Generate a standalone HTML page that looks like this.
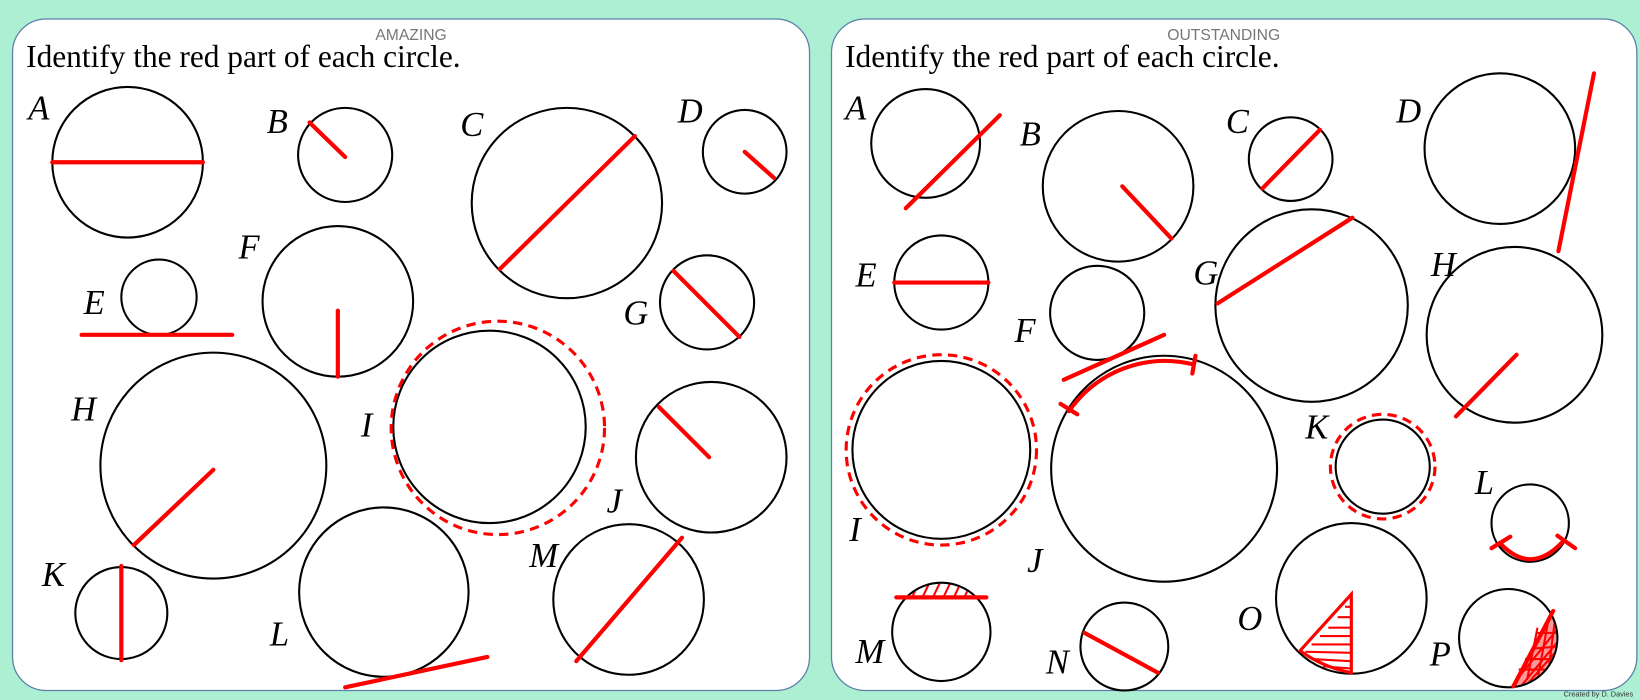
<!DOCTYPE html>
<html><head><meta charset="utf-8"><style>
html,body{margin:0;padding:0;background:#adefd3;}
svg{display:block}
.c{fill:none;stroke:#000;stroke-width:2}
.r{stroke:#f00;stroke-width:4;fill:none;stroke-linecap:round}
.h{stroke:#f00;stroke-width:2;fill:none}
.d{fill:none;stroke:#f00;stroke-width:3;stroke-dasharray:9 6}
.lb{font-family:"Liberation Serif",serif;font-style:italic;font-size:33px;fill:#000}
.t{font-family:"Liberation Serif",serif;font-size:30px;fill:#000}
.hd{font-family:"Liberation Sans",sans-serif;font-size:15px;fill:#777}
</style></head><body>
<svg width="1640" height="700" viewBox="0 0 1568 669" xmlns="http://www.w3.org/2000/svg">
<rect x="0" y="0" width="1568" height="669" fill="#adefd3"/>
<rect x="12" y="18" width="762" height="642" rx="32" fill="#fff" stroke="#5a7fa8" stroke-width="1.2"/>
<rect x="795" y="18" width="770" height="642" rx="32" fill="#fff" stroke="#5a7fa8" stroke-width="1.2"/>
<text class="hd" x="393" y="38" text-anchor="middle">AMAZING</text>
<text class="hd" x="1170" y="38" text-anchor="middle">OUTSTANDING</text>
<text class="t" x="25" y="64">Identify the red part of each circle.</text>
<text class="t" x="808" y="64">Identify the red part of each circle.</text>
<text x="1495" y="666" font-family="Liberation Sans,sans-serif" font-size="7" fill="#333">Created by D. Davies</text>

<!-- LEFT -->
<circle class="c" cx="122" cy="155" r="72"/><line class="r" x1="50" y1="155" x2="194" y2="155"/><text class="lb" x="27" y="114">A</text>
<circle class="c" cx="330" cy="148" r="45"/><line class="r" x1="296" y1="117" x2="330" y2="150"/><text class="lb" x="255" y="127">B</text>
<circle class="c" cx="542" cy="194" r="91"/><line class="r" x1="478" y1="257" x2="607" y2="130"/><text class="lb" x="440" y="130">C</text>
<circle class="c" cx="712" cy="145" r="40"/><line class="r" x1="712" y1="145" x2="740" y2="170"/><text class="lb" x="648" y="117">D</text>
<circle class="c" cx="152" cy="284" r="36"/><line class="r" x1="78" y1="320" x2="222" y2="320"/><text class="lb" x="80" y="300">E</text>
<circle class="c" cx="323" cy="288" r="72"/><line class="r" x1="323" y1="297" x2="323" y2="360"/><text class="lb" x="228" y="247">F</text>
<circle class="c" cx="676" cy="289" r="45"/><line class="r" x1="644" y1="259" x2="707" y2="322"/><text class="lb" x="596" y="310">G</text>
<circle class="c" cx="204" cy="445" r="108"/><line class="r" x1="204" y1="449" x2="128" y2="521"/><text class="lb" x="68" y="402">H</text>
<circle class="c" cx="468" cy="408" r="92"/><circle class="d" cx="476" cy="409" r="102"/><text class="lb" x="345" y="417">I</text>
<circle class="c" cx="680" cy="437" r="72"/><line class="r" x1="630" y1="389" x2="678" y2="437"/><text class="lb" x="580" y="490">J</text>
<circle class="c" cx="116" cy="586" r="44"/><line class="r" x1="116" y1="541" x2="116" y2="631"/><text class="lb" x="40" y="560">K</text>
<circle class="c" cx="367" cy="566" r="81"/><line class="r" x1="330" y1="657" x2="466" y2="628"/><text class="lb" x="258" y="617">L</text>
<circle class="c" cx="601" cy="573" r="72"/><line class="r" x1="551" y1="632" x2="652" y2="514"/><text class="lb" x="506" y="542">M</text>

<!-- RIGHT -->
<circle class="c" cx="885" cy="137" r="52"/><line class="r" x1="866" y1="199" x2="956" y2="110"/><text class="lb" x="808" y="114">A</text>
<circle class="c" cx="1069" cy="178" r="72"/><line class="r" x1="1073" y1="178" x2="1120" y2="228"/><text class="lb" x="975" y="139">B</text>
<circle class="c" cx="1234" cy="152" r="40"/><line class="r" x1="1207" y1="180" x2="1262" y2="124"/><text class="lb" x="1172" y="127">C</text>
<circle class="c" cx="1434" cy="142" r="72"/><line class="r" x1="1490" y1="240" x2="1524" y2="70"/><text class="lb" x="1335" y="117">D</text>
<circle class="c" cx="900" cy="270" r="45"/><line class="r" x1="855" y1="270" x2="945" y2="270"/><text class="lb" x="818" y="274">E</text>
<circle class="c" cx="1049" cy="299" r="45"/><line class="r" x1="1017" y1="363" x2="1113" y2="320"/><text class="lb" x="970" y="327">F</text>
<circle class="c" cx="1254" cy="292" r="92"/><line class="r" x1="1164" y1="290" x2="1293" y2="208"/><text class="lb" x="1141" y="272">G</text>
<circle class="c" cx="1448" cy="320" r="84"/><line class="r" x1="1392" y1="398" x2="1450" y2="339"/><text class="lb" x="1368" y="264">H</text>
<circle class="c" cx="900" cy="430" r="85"/><circle class="d" cx="900" cy="430" r="91"/><text class="lb" x="812" y="517">I</text>
<circle class="c" cx="1113" cy="448" r="108"/>
<path class="r" d="M1022 393 A112 112 0 0 1 1140 348"/>
<line class="r" x1="1014" y1="386" x2="1030" y2="396"/>
<line class="r" x1="1143" y1="340" x2="1140" y2="357"/>
<text class="lb" x="982" y="547">J</text>
<circle class="c" cx="1322" cy="446" r="45"/><circle class="d" cx="1322" cy="446" r="50"/><text class="lb" x="1248" y="419">K</text>
<circle class="c" cx="1463" cy="500" r="37"/>
<path class="r" d="M1434 519 Q1463 550 1493 519"/>
<line class="r" x1="1426" y1="524" x2="1444" y2="513"/>
<line class="r" x1="1506" y1="524" x2="1489" y2="512"/>
<text class="lb" x="1410" y="472">L</text>
<clipPath id="mc"><circle cx="900" cy="604" r="46"/></clipPath>
<g clip-path="url(#mc)">
<path class="h" d="M852 571 L862 550 M862 571 L872 550 M872 571 L882 550 M882 571 L892 550 M892 571 L902 550 M902 571 L912 550 M912 571 L922 550 M922 571 L932 550 M932 571 L942 550 M942 571 L952 550"/></g>
<circle class="c" cx="900" cy="604" r="47"/>
<line class="r" x1="857" y1="571" x2="943" y2="571"/>
<text class="lb" x="818" y="634">M</text>
<circle class="c" cx="1075" cy="618" r="42"/><line class="r" x1="1037" y1="605" x2="1107" y2="643"/><text class="lb" x="1000" y="644">N</text>
<circle class="c" cx="1292" cy="572" r="72"/>
<path d="M1292 568 L1243 622 Q1265 638 1292 643 Z" fill="#fff" stroke="#f00" stroke-width="3"/>
<path class="h" d="M1286 580 L1292 580 M1279 590 L1292 590 M1270 600 L1292 600 M1262 608 L1292 608 M1254 616 L1292 616 M1248 623 L1292 624 M1254 630 L1292 632 M1265 637 L1292 639"/>
<text class="lb" x="1183" y="602">O</text>
<circle class="c" cx="1442" cy="610" r="47"/>
<clipPath id="p"><circle cx="1442" cy="610" r="46"/></clipPath>
<g clip-path="url(#p)"><path d="M1484 584 L1447 657 L1500 657 L1500 584 Z" fill="#f44" opacity="0.55"/>
<path class="h" d="M1450 650 L1490 600 M1455 655 L1492 610 M1462 652 L1490 620 M1452 640 L1488 640 M1458 630 L1490 630 M1465 620 L1490 618 M1470 605 L1492 605 M1460 650 L1470 600 M1470 650 L1480 595 M1480 645 L1487 590"/></g>
<line class="r" x1="1485" y1="584" x2="1447" y2="656"/>
<text class="lb" x="1367" y="636">P</text>
</svg>
</body></html>
